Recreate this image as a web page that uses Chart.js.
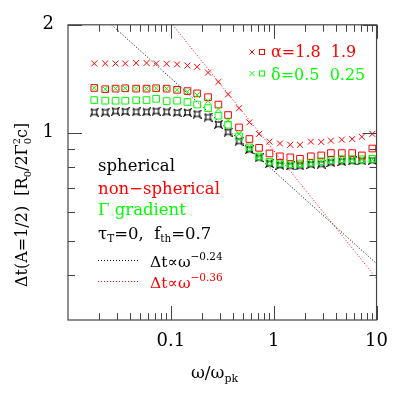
<!DOCTYPE html>
<html>
<head>
<meta charset="utf-8">
<script src="https://cdn.jsdelivr.net/npm/chart.js@4.4.1/dist/chart.umd.min.js"></script>
<style>
  html, body { margin: 0; padding: 0; background: #fff; }
  #wrap { width: 399px; height: 399px; }
</style>
</head>
<body>
<div id="wrap"><canvas id="chart"></canvas></div>
<script>
// omega / omega_pk
const omega = [0.018, 0.023, 0.029, 0.036, 0.046, 0.058, 0.072, 0.091, 0.115, 0.145,
               0.18, 0.23, 0.29, 0.36, 0.46, 0.58, 0.72, 0.91, 1.15, 1.45,
               1.8, 2.3, 2.9, 3.6, 4.6, 5.8, 7.2, 9.1];

// delta t (A=1/2)
const spherical = [1.141, 1.141, 1.148, 1.145, 1.143, 1.143, 1.148, 1.143, 1.138, 1.138,
                   1.127, 1.105, 1.055, 1.004, 0.947, 0.897, 0.851, 0.820, 0.811, 0.808,
                   0.808, 0.815, 0.817, 0.825, 0.830, 0.834, 0.835, 0.837];
const alpha18 = [1.56, 1.56, 1.56, 1.56, 1.565, 1.565, 1.56, 1.557, 1.551, 1.539,
                 1.527, 1.471, 1.386, 1.279, 1.169, 1.068, 0.992, 0.944, 0.933, 0.925,
                 0.925, 0.944, 0.942, 0.950, 0.956, 0.960, 0.974, 0.992];
const alpha19 = [1.333, 1.322, 1.327, 1.330, 1.327, 1.327, 1.330, 1.327, 1.317, 1.306,
                 1.287, 1.256, 1.198, 1.120, 1.034, 0.960, 0.907, 0.875, 0.859, 0.853,
                 0.845, 0.859, 0.864, 0.877, 0.877, 0.877, 0.864, 0.903];
const delta05 = [1.333, 1.322, 1.327, 1.330, 1.327, 1.327, 1.330, 1.327, 1.317, 1.301,
                 1.273, 1.227, 1.164, 1.081, 0.992, 0.913, 0.861, 0.832, 0.823, 0.820,
                 0.821, 0.828, 0.834, 0.840, 0.845, 0.845, 0.842, 0.842];
const delta025 = [1.233, 1.228, 1.228, 1.228, 1.231, 1.233, 1.243, 1.225, 1.228, 1.218,
                  1.198, 1.171, 1.115, 1.052, 0.976, 0.910, 0.858, 0.830, 0.822, 0.817,
                  0.820, 0.825, 0.832, 0.838, 0.843, 0.843, 0.843, 0.845];

// power law guide lines (end points)
const fit024X = [0.0265, 10];
const fit024Y = [2.0, 0.431];
const fit036X = [0.104, 10];
const fit036Y = [2.0, 0.392];

const xTickLabels = [0.1, 1, 10];
const xMinorTicks = [0.02, 0.03, 0.04, 0.05, 0.06, 0.07, 0.08, 0.09,
                     0.2, 0.3, 0.4, 0.5, 0.6, 0.7, 0.8, 0.9,
                     2, 3, 4, 5, 6, 7, 8, 9];
const yTickLabels = [1, 2];
const yMinorTicks = [0.4, 0.5, 0.6, 0.7, 0.8, 0.9];

const RED = '#ff0000';
const GREEN = '#00ff00';
const FONT = '"DejaVu Serif", serif';

const pts = arr => omega.map((x, i) => ({ x: x, y: arr[i] }));
const line = (xs, ys) => xs.map((x, i) => ({ x: x, y: ys[i] }));

// little 4-point star marker
const star = document.createElement('canvas');
star.width = 9; star.height = 9;
(() => {
    const g = star.getContext('2d');
    g.strokeStyle = '#000';
    g.lineWidth = 1.1;
    g.beginPath();
    g.moveTo(1, 1);
    g.quadraticCurveTo(4.5, 3.6, 8, 1);
    g.quadraticCurveTo(5.4, 4.5, 8, 8);
    g.quadraticCurveTo(4.5, 5.4, 1, 8);
    g.quadraticCurveTo(3.6, 4.5, 1, 1);
    g.stroke();
})();

const rich = (ctx, x, y, parts, color) => {
    let cx = x;
    parts.forEach(p => {
        ctx.font = p[1] + 'px ' + FONT;
        ctx.fillStyle = p[3] || color;
        ctx.fillText(p[0], cx, y + (p[2] || 0));
        if (!p[4]) cx += ctx.measureText(p[0]).width;
    });
    return cx;
};

const decorations = {
    id: 'decorations',
    afterDraw(chart) {
        const ctx = chart.ctx;
        const a = chart.chartArea;
        const xs = chart.scales.x, ys = chart.scales.y;
        ctx.save();
        ctx.textBaseline = 'alphabetic';
        ctx.textAlign = 'left';

        // frame
        ctx.strokeStyle = '#444';
        ctx.lineWidth = 1.2;
        ctx.strokeRect(a.left, a.top, a.right - a.left, a.bottom - a.top);

        // inward ticks
        ctx.lineWidth = 1;
        ctx.beginPath();
        const tickX = (v, len) => {
            const px = Math.round(xs.getPixelForValue(v)) + 0.5;
            ctx.moveTo(px, a.bottom); ctx.lineTo(px, a.bottom - len);
            ctx.moveTo(px, a.top); ctx.lineTo(px, a.top + len);
        };
        const tickY = (v, len) => {
            const py = Math.round(ys.getPixelForValue(v)) + 0.5;
            ctx.moveTo(a.left, py); ctx.lineTo(a.left + len, py);
            ctx.moveTo(a.right, py); ctx.lineTo(a.right - len, py);
        };
        xTickLabels.forEach(v => tickX(v, 14));
        xMinorTicks.forEach(v => tickX(v, 7));
        yTickLabels.forEach(v => tickY(v, 14));
        yMinorTicks.forEach(v => tickY(v, 7));
        ctx.stroke();

        // text block
        rich(ctx, 98, 170.5, [['spherical', 16.5]], '#000');
        rich(ctx, 98, 194, [['non\u2212spherical', 16.5]], RED);
        rich(ctx, 98, 215, [['\u0393 gradient', 16.5]], GREEN);
        rich(ctx, 98, 238.5, [['\u03c4', 16.5], ['T', 10.5, 3], ['=0,  f', 16.5], ['th', 10.5, 3], ['=0.7', 16.5]], '#000');

        ctx.lineWidth = 1;
        ctx.setLineDash([1, 2]);
        ctx.strokeStyle = '#000';
        ctx.beginPath(); ctx.moveTo(98, 260.5); ctx.lineTo(138, 260.5); ctx.stroke();
        ctx.strokeStyle = RED;
        ctx.beginPath(); ctx.moveTo(98, 281.5); ctx.lineTo(138, 281.5); ctx.stroke();
        ctx.setLineDash([]);
        rich(ctx, 150, 267, [['\u0394t\u221d\u03c9', 15.5], ['\u22120.24', 10.5, -7]], '#000');
        rich(ctx, 150, 288, [['\u0394t\u221d\u03c9', 15.5], ['\u22120.36', 10.5, -7]], RED);

        // top right key
        const cross = (x, y, c) => {
            ctx.strokeStyle = c; ctx.beginPath();
            ctx.moveTo(x - 2.5, y - 2.5); ctx.lineTo(x + 2.5, y + 2.5);
            ctx.moveTo(x + 2.5, y - 2.5); ctx.lineTo(x - 2.5, y + 2.5);
            ctx.stroke();
        };
        const box = (x, y, c) => {
            ctx.strokeStyle = c;
            ctx.strokeRect(x - 2.5, y - 2.5, 5, 5);
        };
        cross(252, 52, RED); box(262, 52, RED);
        cross(252, 73.5, GREEN); box(262, 73.5, GREEN);
        rich(ctx, 271, 56.5, [['\u03b1=1.8  1.9', 16]], RED);
        rich(ctx, 271, 80, [['\u03b4=0.5  0.25', 16]], GREEN);

        // x title
        rich(ctx, 191, 378, [['\u03c9/\u03c9', 17], ['pk', 11, 4]], '#000');

        // y title
        ctx.translate(27, 287);
        ctx.rotate(-Math.PI / 2);
        rich(ctx, 0, 0, [['\u0394t(A=1/2)  [R', 16], ['0', 10, 4], ['/2\u0393', 16],
                         ['2', 10, -7, null, true], ['0', 10, 4], ['c]', 16]], '#000');
        ctx.restore();
    }
};

new Chart(document.getElementById('chart'), {
    type: 'scatter',
    data: {
        datasets: [
            { label: 'delta 0.5', data: pts(delta05), pointStyle: 'crossRot', pointRadius: 4.2, borderColor: GREEN, borderWidth: 1 },
            { label: 'alpha 1.9', data: pts(alpha19), pointStyle: 'rect', pointRadius: 4.7, borderColor: RED, backgroundColor: 'transparent', borderWidth: 1 },
            { label: 'alpha 1.8', data: pts(alpha18), pointStyle: 'crossRot', pointRadius: 4.2, borderColor: RED, borderWidth: 1 },
            { label: 'delta 0.25', data: pts(delta025), pointStyle: 'rect', pointRadius: 4.7, borderColor: GREEN, backgroundColor: 'transparent', borderWidth: 1 },
            { label: 'spherical', data: pts(spherical), pointStyle: star, pointRadius: 4 },
            { label: 'w^-0.24', type: 'line', data: line(fit024X, fit024Y), borderColor: '#000', borderWidth: 1, borderDash: [1, 2], pointRadius: 0, fill: false },
            { label: 'w^-0.36', type: 'line', data: line(fit036X, fit036Y), borderColor: RED, borderWidth: 1, borderDash: [1, 2], pointRadius: 0, fill: false }
        ]
    },
    options: {
        responsive: true,
        maintainAspectRatio: false,
        animation: false,
        devicePixelRatio: 1,
        layout: { padding: { top: 22, right: 21, left: 0, bottom: 0 } },
        plugins: { legend: { display: false }, tooltip: { enabled: false } },
        scales: {
            x: {
                type: 'logarithmic',
                min: 0.01,
                max: 10,
                afterBuildTicks: s => { s.ticks = xTickLabels.map(v => ({ value: v })); },
                afterFit: s => { s.height = 79; },
                grid: { display: false, drawTicks: false },
                border: { display: false },
                ticks: { autoSkip: false, maxRotation: 0, padding: 11, color: '#000',
                         font: { family: FONT, size: 18 }, callback: v => String(v) }
            },
            y: {
                type: 'logarithmic',
                min: 0.316,
                max: 2,
                afterBuildTicks: s => { s.ticks = yTickLabels.map(v => ({ value: v })); },
                afterFit: s => { s.width = 68; },
                grid: { display: false, drawTicks: false },
                border: { display: false },
                ticks: { autoSkip: false, padding: 14, color: '#000',
                         font: { family: FONT, size: 18 }, callback: v => String(v) }
            }
        }
    },
    plugins: [decorations]
});
</script>
</body>
</html>
